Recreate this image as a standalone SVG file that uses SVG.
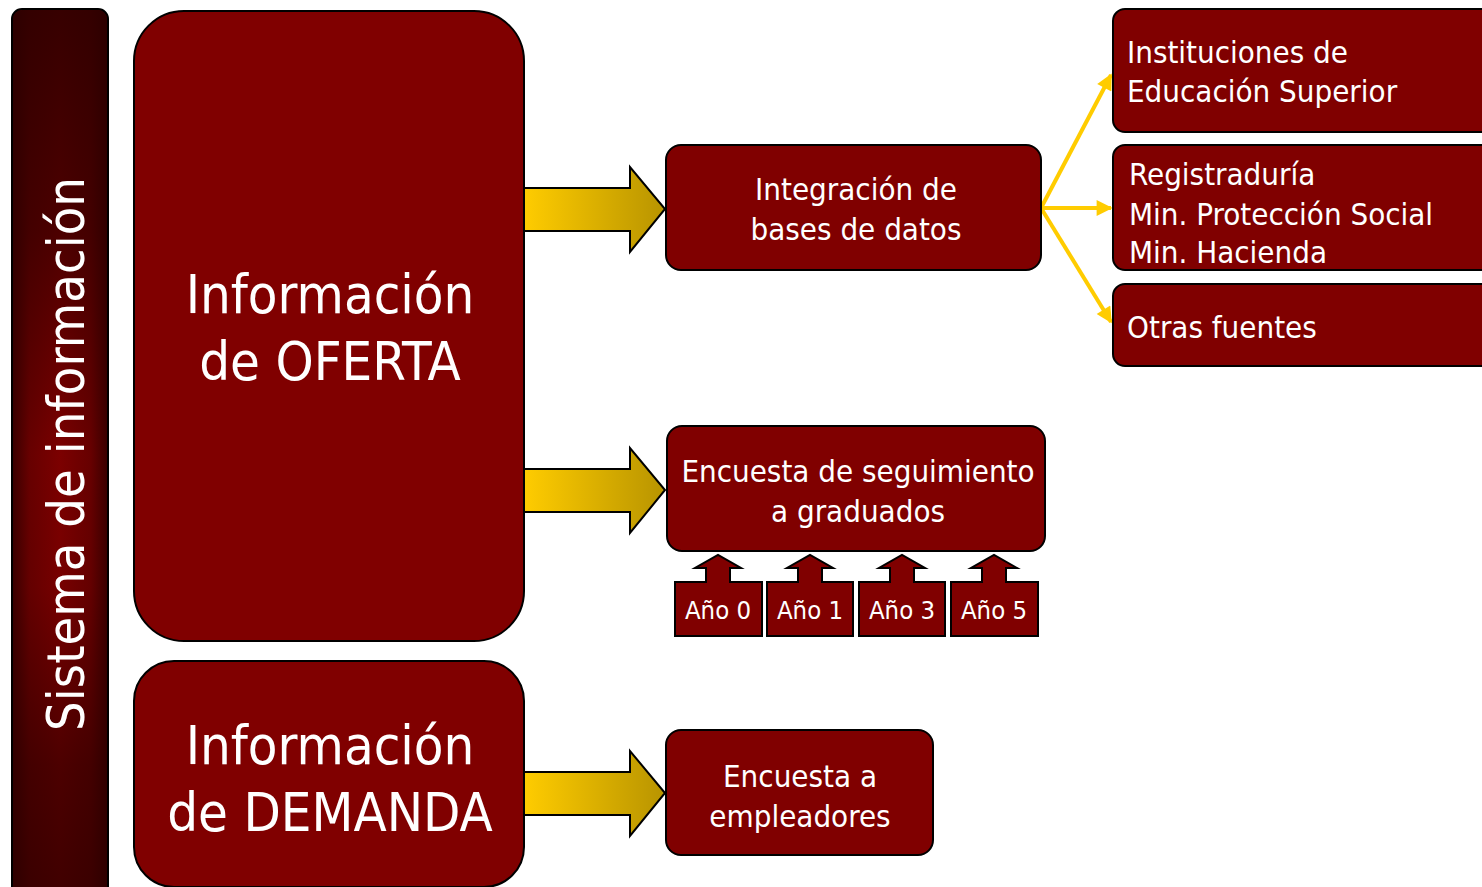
<svg xmlns="http://www.w3.org/2000/svg" width="1482" height="887" viewBox="0 0 1482 887">
<defs>
<linearGradient id="barH" x1="0" y1="0" x2="1" y2="0">
<stop offset="0" stop-color="#3a0000"/>
<stop offset="0.18" stop-color="#6a0000"/>
<stop offset="0.5" stop-color="#800000"/>
<stop offset="0.82" stop-color="#6a0000"/>
<stop offset="1" stop-color="#3a0000"/>
</linearGradient>
<linearGradient id="barV" x1="0" y1="0" x2="0" y2="1">
<stop offset="0" stop-color="#2a0000" stop-opacity="0.85"/>
<stop offset="0.25" stop-color="#2a0000" stop-opacity="0.6"/>
<stop offset="0.5" stop-color="#2a0000" stop-opacity="0.05"/>
<stop offset="0.65" stop-color="#2a0000" stop-opacity="0.1"/>
<stop offset="0.85" stop-color="#2a0000" stop-opacity="0.6"/>
<stop offset="1" stop-color="#2a0000" stop-opacity="0.75"/>
</linearGradient>
<linearGradient id="gold" x1="0" y1="0" x2="1" y2="0">
<stop offset="0" stop-color="#ffcc00"/>
<stop offset="1" stop-color="#b89400"/>
</linearGradient>
<marker id="ah" viewBox="0 0 10 10" refX="9" refY="5" markerWidth="4.5" markerHeight="4" orient="auto" markerUnits="strokeWidth">
<path d="M0,0 L10,5 L0,10 z" fill="#ffcc00"/>
</marker>
</defs>
<style>
.box{fill:#800000;stroke:#000;stroke-width:2}
.t{fill:#fff;font-family:"DejaVu Sans Condensed","DejaVu Sans",Verdana,sans-serif;font-stretch:condensed}
.m{font-size:31px}
.big{font-size:54px;text-anchor:middle}
.c{text-anchor:middle}
.y{font-size:25.5px;text-anchor:middle}
.arr{fill:url(#gold);stroke:#000;stroke-width:2}
.ln{stroke:#ffcc00;stroke-width:4;fill:none;marker-end:url(#ah)}
</style>
<g id="sistema">
<rect x="12" y="9" width="96" height="890" rx="10" fill="url(#barH)" stroke="#000" stroke-width="2"/>
<rect x="13" y="10" width="94" height="888" rx="9" fill="url(#barV)"/>
<text class="t" transform="translate(84,454) rotate(-90)" text-anchor="middle" font-size="52">Sistema de información</text>
</g>
<g id="oferta">
<rect class="box" x="134" y="11" width="390" height="630" rx="50"/>
<text class="t big" x="330" y="313">Información</text>
<text class="t big" x="330" y="380">de OFERTA</text>
</g>
<g id="demanda">
<rect class="box" x="134" y="661" width="390" height="226" rx="40"/>
<text class="t big" x="330" y="764">Información</text>
<text class="t big" x="330" y="831">de DEMANDA</text>
</g>
<g id="connectors">
<polygon class="arr" points="524,188 630,188 630,167 665,209 630,252 630,231 524,231"/>
<polygon class="arr" points="524,469 630,469 630,448 665,490 630,533 630,512 524,512"/>
<polygon class="arr" points="524,772 630,772 630,751 665,793 630,836 630,815 524,815"/>
<line class="ln" x1="1041" y1="208" x2="1111" y2="75"/>
<line class="ln" x1="1041" y1="208" x2="1111" y2="208"/>
<line class="ln" x1="1041" y1="208" x2="1111" y2="322"/>
</g>
<g id="integracion">
<rect class="box" x="666" y="145" width="375" height="125" rx="15"/>
<text class="t m c" x="856" y="200">Integración de</text>
<text class="t m c" x="856" y="240">bases de datos</text>
</g>
<g id="seguimiento">
<rect class="box" x="667" y="426" width="378" height="125" rx="15"/>
<text class="t m c" x="858" y="482">Encuesta de seguimiento</text>
<text class="t m c" x="858" y="522">a graduados</text>
</g>
<g id="ano0">
<polygon class="box" points="675,582 706,582 706,568 695,568 718,555 741,568 730,568 730,582 762,582 762,636 675,636"/>
<text class="t y" x="718" y="619">Año 0</text>
</g>
<g id="ano1">
<polygon class="box" points="767,582 798,582 798,568 787,568 810,555 833,568 822,568 822,582 853,582 853,636 767,636"/>
<text class="t y" x="810" y="619">Año 1</text>
</g>
<g id="ano3">
<polygon class="box" points="859,582 890,582 890,568 879,568 902,555 925,568 914,568 914,582 945,582 945,636 859,636"/>
<text class="t y" x="902" y="619">Año 3</text>
</g>
<g id="ano5">
<polygon class="box" points="951,582 982,582 982,568 971,568 994,555 1017,568 1006,568 1006,582 1038,582 1038,636 951,636"/>
<text class="t y" x="994" y="619">Año 5</text>
</g>
<g id="empleadores">
<rect class="box" x="666" y="730" width="267" height="125" rx="15"/>
<text class="t m c" x="800" y="787">Encuesta a</text>
<text class="t m c" x="800" y="827">empleadores</text>
</g>
<g id="instituciones">
<rect class="box" x="1113" y="9" width="390" height="123" rx="12"/>
<text class="t m" x="1127" y="63">Instituciones de</text>
<text class="t m" x="1127" y="102">Educación Superior</text>
</g>
<g id="registraduria">
<rect class="box" x="1113" y="145" width="390" height="125" rx="12"/>
<text class="t m" x="1129" y="185">Registraduría</text>
<text class="t m" x="1129" y="225">Min. Protección Social</text>
<text class="t m" x="1129" y="263">Min. Hacienda</text>
</g>
<g id="otras">
<rect class="box" x="1113" y="284" width="390" height="82" rx="12"/>
<text class="t m" x="1127" y="338">Otras fuentes</text>
</g>
</svg>
